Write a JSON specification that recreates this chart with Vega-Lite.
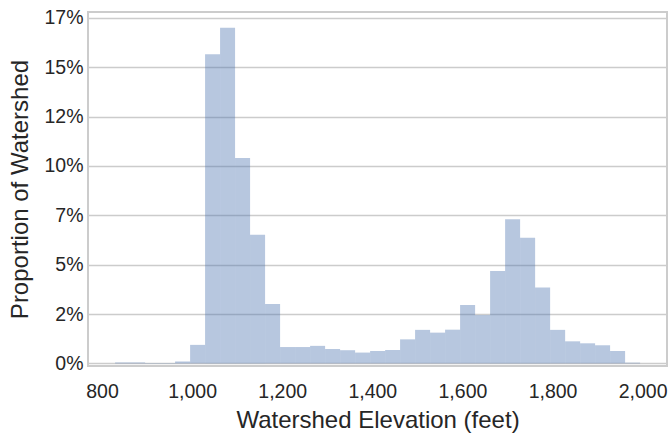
{
  "$schema": "https://vega.github.io/schema/vega-lite/v6.json",
  "width": 579,
  "height": 354,
  "autosize": {"type": "none"},
  "padding": {"left": 88, "top": 12, "right": 3, "bottom": 70},
  "background": "white",
  "config": {
    "font": "Liberation Sans",
    "view": {"stroke": "#cccccc", "strokeWidth": 2},
    "axis": {
      "gridColor": "#cccccc",
      "gridWidth": 1.6,
      "domain": false,
      "ticks": false,
      "labelFontSize": 19.5,
      "labelColor": "#262626",
      "titleFontSize": 24,
      "titleFontWeight": "normal",
      "titleColor": "#262626"
    }
  },
  "data": {
    "values": [
      {"bin_start": 828.0, "bin_end": 861.3, "proportion": 0.0005},
      {"bin_start": 861.3, "bin_end": 894.6, "proportion": 0.0005},
      {"bin_start": 894.6, "bin_end": 927.9, "proportion": 0.0002},
      {"bin_start": 927.9, "bin_end": 961.2, "proportion": 0.0002},
      {"bin_start": 961.2, "bin_end": 994.5, "proportion": 0.001},
      {"bin_start": 994.5, "bin_end": 1027.7, "proportion": 0.0094},
      {"bin_start": 1027.7, "bin_end": 1061.0, "proportion": 0.1566},
      {"bin_start": 1061.0, "bin_end": 1094.3, "proportion": 0.170},
      {"bin_start": 1094.3, "bin_end": 1127.6, "proportion": 0.104},
      {"bin_start": 1127.6, "bin_end": 1160.9, "proportion": 0.0652},
      {"bin_start": 1160.9, "bin_end": 1194.2, "proportion": 0.0301},
      {"bin_start": 1194.2, "bin_end": 1227.5, "proportion": 0.0083},
      {"bin_start": 1227.5, "bin_end": 1260.8, "proportion": 0.0083},
      {"bin_start": 1260.8, "bin_end": 1294.1, "proportion": 0.0089},
      {"bin_start": 1294.1, "bin_end": 1327.4, "proportion": 0.0073},
      {"bin_start": 1327.4, "bin_end": 1360.7, "proportion": 0.0067},
      {"bin_start": 1360.7, "bin_end": 1394.0, "proportion": 0.0055},
      {"bin_start": 1394.0, "bin_end": 1427.3, "proportion": 0.0063},
      {"bin_start": 1427.3, "bin_end": 1460.5, "proportion": 0.0068},
      {"bin_start": 1460.5, "bin_end": 1493.8, "proportion": 0.0122},
      {"bin_start": 1493.8, "bin_end": 1527.1, "proportion": 0.0170},
      {"bin_start": 1527.1, "bin_end": 1560.4, "proportion": 0.0156},
      {"bin_start": 1560.4, "bin_end": 1593.7, "proportion": 0.0171},
      {"bin_start": 1593.7, "bin_end": 1627.0, "proportion": 0.0296},
      {"bin_start": 1627.0, "bin_end": 1660.3, "proportion": 0.0245},
      {"bin_start": 1660.3, "bin_end": 1693.6, "proportion": 0.0468},
      {"bin_start": 1693.6, "bin_end": 1726.9, "proportion": 0.0730},
      {"bin_start": 1726.9, "bin_end": 1760.2, "proportion": 0.0637},
      {"bin_start": 1760.2, "bin_end": 1793.5, "proportion": 0.0384},
      {"bin_start": 1793.5, "bin_end": 1826.8, "proportion": 0.0170},
      {"bin_start": 1826.8, "bin_end": 1860.1, "proportion": 0.0112},
      {"bin_start": 1860.1, "bin_end": 1893.3, "proportion": 0.0102},
      {"bin_start": 1893.3, "bin_end": 1926.6, "proportion": 0.0092},
      {"bin_start": 1926.6, "bin_end": 1959.9, "proportion": 0.0063},
      {"bin_start": 1959.9, "bin_end": 1993.2, "proportion": 0.0004}
    ]
  },
  "mark": {"type": "bar", "color": "#4c72b0", "opacity": 0.4, "binSpacing": 0},
  "encoding": {
    "x": {
      "field": "bin_start",
      "type": "quantitative",
      "bin": "binned",
      "scale": {"domain": [769, 2054], "nice": false, "zero": false},
      "axis": {
        "title": "Watershed Elevation (feet)",
        "values": [800, 1000, 1200, 1400, 1600, 1800, 2000],
        "format": ",d",
        "labelPadding": 16,
        "titlePadding": 8,
        "labelFlush": false
      }
    },
    "x2": {"field": "bin_end"},
    "y": {
      "field": "proportion",
      "type": "quantitative",
      "scale": {"domain": [-0.0013, 0.178], "nice": false, "zero": false},
      "axis": {
        "title": "Proportion of Watershed",
        "values": [0, 0.025, 0.05, 0.075, 0.1, 0.125, 0.15, 0.175],
        "labelExpr": "floor(datum.value * 100 + 0.000001) + '%'",
        "labelPadding": 5,
        "titlePadding": 11,
        "labelFlush": false
      }
    }
  }
}
